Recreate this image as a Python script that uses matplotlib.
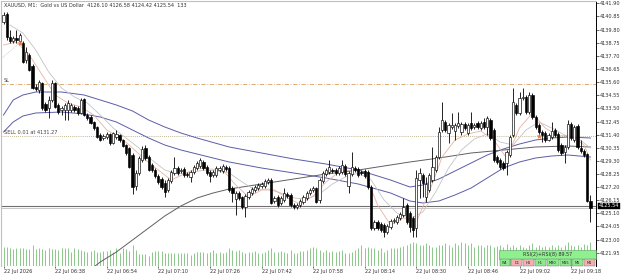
import matplotlib
matplotlib.use("Agg")
import matplotlib.pyplot as plt
from matplotlib.patches import Rectangle

plt.rcParams['font.family'] = ['DejaVu Sans']

# ---------------- data ----------------
opens = [4140.41, 4141.05, 4139.21, 4138.89, 4139.13, 4138.89, 4138.73, 4137.37, 4137.77, 4136.89,
         4135.21, 4134.97, 4135.53, 4133.85, 4133.53, 4134.17, 4135.53, 4133.77, 4133.37, 4133.37,
         4133.37, 4133.37, 4133.61, 4133.53, 4133.13, 4134.25, 4132.97, 4132.81, 4132.41, 4132.01,
         4131.37, 4131.13, 4131.21, 4131.45, 4130.73, 4131.21, 4131.37, 4130.97, 4130.57, 4130.33,
         4129.77, 4127.29, 4128.33, 4129.37, 4130.33, 4129.61, 4128.97, 4128.57, 4128.09, 4127.85,
         4127.53, 4126.97, 4127.69, 4128.33, 4128.73, 4128.49, 4128.65, 4128.25, 4128.01, 4128.41,
         4128.73, 4128.89, 4129.21, 4128.81, 4128.41, 4128.17, 4128.17, 4128.57, 4128.49, 4128.81,
         4128.73, 4127.13, 4126.25, 4126.73, 4126.41, 4125.61, 4126.41, 4126.73, 4126.97, 4127.13,
         4127.29, 4127.29, 4127.61, 4127.77, 4126.09, 4126.41, 4125.93, 4126.17, 4126.65, 4126.57,
         4125.77, 4125.61, 4125.77, 4126.01, 4126.33, 4126.73, 4126.97, 4127.13, 4126.17, 4127.69,
         4128.25, 4128.41, 4128.57, 4128.57, 4128.33, 4128.41, 4128.89, 4127.29, 4128.25, 4128.73,
         4128.65, 4128.41, 4128.49, 4128.41, 4127.21, 4123.93, 4124.41, 4124.25, 4124.17, 4123.61,
         4124.01, 4124.49, 4124.41, 4124.73, 4124.97, 4125.77, 4125.13, 4124.73, 4123.93, 4127.77,
         4128.17, 4126.41, 4126.97, 4127.77, 4128.57, 4129.61, 4131.77, 4132.41, 4131.53, 4132.01,
         4131.69, 4132.09, 4131.61, 4132.25, 4131.53, 4132.33, 4132.01, 4132.33, 4131.93, 4132.41,
         4132.01, 4132.57, 4131.77, 4129.61, 4129.37, 4129.13, 4129.13, 4129.77, 4131.37, 4133.77,
         4133.13, 4134.33, 4134.41, 4133.21, 4134.57, 4132.81, 4132.17, 4131.61, 4131.53, 4130.97,
         4131.21, 4131.77, 4131.45, 4130.57, 4130.01, 4130.41, 4132.25, 4130.97, 4132.09, 4130.33,
         4130.09, 4129.85, 4126.10]
highs = [4141.21, 4141.21, 4139.77, 4139.29, 4139.77, 4139.53, 4138.89, 4138.41, 4137.93, 4137.05,
         4135.45, 4135.77, 4135.61, 4134.01, 4134.49, 4135.77, 4135.61, 4133.93, 4133.69, 4133.93,
         4134.17, 4133.93, 4133.77, 4133.69, 4134.33, 4134.33, 4133.13, 4132.97, 4132.49, 4132.09,
         4131.53, 4131.45, 4131.61, 4131.53, 4131.61, 4131.77, 4131.45, 4131.05, 4130.65, 4130.41,
         4129.93, 4128.57, 4129.69, 4130.49, 4130.57, 4129.77, 4129.13, 4128.73, 4128.25, 4128.01,
         4127.77, 4127.93, 4128.57, 4129.61, 4128.89, 4128.73, 4128.81, 4128.41, 4128.57, 4128.97,
         4129.29, 4129.53, 4129.37, 4128.97, 4128.57, 4128.57, 4128.89, 4128.89, 4129.05, 4128.97,
         4128.89, 4127.29, 4126.89, 4126.89, 4126.49, 4126.65, 4126.97, 4127.21, 4127.37, 4127.53,
         4127.61, 4127.85, 4127.93, 4127.93, 4126.49, 4126.57, 4126.49, 4127.13, 4126.81, 4126.73,
         4125.93, 4125.93, 4126.25, 4126.57, 4126.89, 4127.13, 4127.29, 4127.21, 4127.93, 4128.49,
         4128.73, 4129.37, 4128.73, 4128.73, 4128.89, 4129.37, 4129.05, 4128.49, 4130.01, 4128.89,
         4128.81, 4128.57, 4128.65, 4128.57, 4127.37, 4124.57, 4124.57, 4124.41, 4124.33, 4124.25,
         4124.65, 4124.73, 4124.97, 4125.21, 4126.33, 4125.93, 4125.29, 4124.89, 4128.57, 4128.73,
         4128.33, 4128.01, 4128.33, 4130.41, 4129.77, 4132.01, 4134.01, 4132.57, 4132.33, 4133.13,
         4132.33, 4133.21, 4132.41, 4132.41, 4132.33, 4133.21, 4132.33, 4132.49, 4132.49, 4132.73,
         4132.89, 4132.73, 4131.93, 4129.77, 4129.53, 4129.29, 4130.17, 4131.37, 4135.13, 4133.93,
         4134.81, 4135.13, 4134.57, 4134.81, 4134.73, 4132.97, 4132.33, 4131.77, 4131.69, 4131.53,
         4132.41, 4131.93, 4131.61, 4130.73, 4130.57, 4132.57, 4132.41, 4132.17, 4132.25, 4130.97,
         4130.25, 4129.93, 4126.58]
lows = [4140.25, 4138.97, 4138.73, 4138.73, 4138.73, 4138.65, 4137.13, 4137.13, 4136.49, 4135.05,
        4134.89, 4134.73, 4133.37, 4133.21, 4132.73, 4134.01, 4133.53, 4133.05, 4132.97, 4132.57,
        4132.57, 4133.21, 4133.21, 4132.97, 4133.05, 4132.89, 4132.57, 4132.25, 4131.77, 4131.13,
        4130.89, 4130.97, 4131.05, 4130.57, 4130.65, 4131.05, 4130.81, 4130.41, 4129.77, 4128.73,
        4126.65, 4126.97, 4128.17, 4129.21, 4129.37, 4128.49, 4128.41, 4127.93, 4127.45, 4127.05,
        4126.41, 4126.81, 4127.53, 4128.17, 4128.17, 4128.33, 4128.01, 4128.01, 4127.61, 4128.25,
        4128.57, 4128.73, 4128.57, 4128.17, 4127.61, 4128.01, 4128.01, 4128.41, 4128.33, 4128.49,
        4126.81, 4126.01, 4124.97, 4126.17, 4125.45, 4124.81, 4126.25, 4126.57, 4126.81, 4126.97,
        4127.13, 4127.13, 4127.45, 4125.85, 4125.93, 4125.61, 4125.77, 4126.01, 4126.33, 4125.61,
        4125.45, 4125.45, 4125.61, 4125.85, 4126.17, 4126.57, 4126.81, 4125.93, 4125.93, 4127.53,
        4128.09, 4128.25, 4128.33, 4128.17, 4128.17, 4128.25, 4128.09, 4126.73, 4128.09, 4128.41,
        4128.01, 4128.17, 4127.93, 4127.05, 4123.77, 4123.77, 4123.77, 4123.61, 4123.21, 4123.45,
        4123.85, 4124.33, 4124.25, 4124.57, 4124.81, 4124.25, 4123.61, 4123.21, 4123.21, 4126.33,
        4126.41, 4126.01, 4126.81, 4127.61, 4128.41, 4129.45, 4131.61, 4131.61, 4130.73, 4131.85,
        4130.97, 4131.93, 4131.37, 4131.77, 4131.37, 4131.77, 4131.85, 4131.85, 4131.77, 4131.85,
        4131.37, 4130.97, 4129.21, 4129.05, 4128.65, 4128.57, 4128.17, 4129.61, 4131.21, 4132.97,
        4132.97, 4134.17, 4133.05, 4133.05, 4132.65, 4131.85, 4131.37, 4130.81, 4130.81, 4130.89,
        4131.05, 4131.21, 4130.01, 4129.77, 4129.13, 4130.25, 4130.97, 4130.81, 4130.25, 4129.93,
        4129.61, 4126.01, 4124.42]
closes = [4140.97, 4139.21, 4138.89, 4139.13, 4138.97, 4139.37, 4137.21, 4138.01, 4136.57, 4135.13,
          4135.05, 4135.61, 4133.53, 4133.37, 4134.17, 4135.53, 4133.61, 4133.21, 4133.53, 4133.77,
          4133.93, 4133.77, 4133.37, 4133.13, 4134.17, 4132.97, 4132.73, 4132.33, 4131.93, 4131.21,
          4130.97, 4131.29, 4131.45, 4130.73, 4131.53, 4131.45, 4130.97, 4130.49, 4129.93, 4128.81,
          4127.21, 4128.33, 4129.53, 4130.25, 4129.53, 4128.57, 4128.57, 4128.09, 4127.61, 4127.21,
          4126.81, 4127.77, 4128.41, 4128.73, 4128.33, 4128.57, 4128.17, 4128.17, 4128.41, 4128.81,
          4129.13, 4129.37, 4128.73, 4128.33, 4128.09, 4128.41, 4128.73, 4128.73, 4128.89, 4128.65,
          4126.97, 4126.73, 4126.73, 4126.33, 4125.61, 4126.49, 4126.81, 4127.05, 4127.21, 4127.37,
          4127.45, 4127.69, 4127.77, 4125.93, 4126.33, 4125.77, 4126.33, 4126.73, 4126.49, 4125.77,
          4125.61, 4125.77, 4126.09, 4126.41, 4126.73, 4126.97, 4127.13, 4126.01, 4127.77, 4128.33,
          4128.57, 4128.81, 4128.49, 4128.33, 4128.73, 4128.97, 4128.25, 4128.33, 4128.81, 4128.57,
          4128.17, 4128.33, 4128.09, 4127.21, 4123.93, 4124.41, 4123.93, 4123.77, 4123.61, 4124.09,
          4124.49, 4124.57, 4124.81, 4125.05, 4125.61, 4124.41, 4124.01, 4123.77, 4127.93, 4128.33,
          4127.53, 4127.45, 4128.17, 4128.81, 4129.61, 4131.61, 4132.57, 4131.77, 4132.17, 4132.17,
          4132.17, 4132.33, 4132.25, 4131.93, 4132.17, 4131.93, 4132.17, 4132.01, 4132.33, 4132.01,
          4132.73, 4131.13, 4129.37, 4129.21, 4128.81, 4128.73, 4130.01, 4131.21, 4134.01, 4133.13,
          4134.33, 4134.41, 4133.21, 4134.57, 4132.81, 4132.01, 4131.61, 4131.37, 4130.97, 4131.37,
          4131.69, 4131.37, 4130.17, 4129.93, 4130.41, 4132.25, 4131.13, 4132.01, 4130.41, 4130.09,
          4129.77, 4126.09, 4125.54]
volumes = [106, 106, 101, 94, 97, 101, 101, 92, 94, 119, 94, 97, 94, 88, 97, 94, 92, 88, 97, 97,
           97, 79, 101, 94, 88, 83, 79, 83, 88, 79, 79, 83, 83, 88, 79, 97, 70, 97, 94, 83,
           114, 88, 66, 64, 64, 55, 79, 83, 84, 83, 73, 73, 73, 73, 70, 73, 70, 70, 61, 70,
           79, 75, 79,
           70, 79, 88, 73, 79, 73, 79, 97, 88, 83, 88, 79, 70, 79, 79, 84, 73, 73, 79, 88,
           97, 79, 79, 83, 79, 73, 88, 73, 73, 83, 83, 88, 97, 106, 97, 88, 79, 88, 79, 83,
           79, 83, 88, 73, 70, 79, 88, 97, 116, 97, 106, 97, 97, 88, 97, 79, 88, 97, 97, 97,
           106, 110, 116, 125, 134, 125, 116, 116, 125, 116, 106, 106, 116, 116, 125, 116, 106, 125, 116, 134,
           125, 116, 125, 106, 116, 116, 106, 116, 116, 106, 110, 116, 106, 121, 106, 116, 106, 116, 106, 97,
           116, 125, 106, 116, 106, 110, 106, 116, 106, 116, 106, 116, 134, 116, 110, 116, 106, 121, 116, 133]

# moving-average lines (bar index, price)
fast_ma_bars = [0, 4, 8, 12, 16, 20, 24, 28, 32, 36, 40, 44, 48, 52, 56, 60, 64, 68, 72, 76, 80, 84,
                88, 92, 96, 100, 104, 108, 112, 116, 120, 124, 128, 132, 136, 140, 144, 148, 152,
                156, 160, 164, 168, 172, 176, 180, 182]
fast_ma_vals = [4138.57, 4138.81, 4137.77, 4136.17, 4134.57, 4133.93, 4133.61, 4132.97, 4131.77,
                4131.21, 4130.33, 4129.37, 4128.57, 4127.77, 4128.25, 4128.73, 4128.65, 4128.57,
                4127.37, 4126.41, 4126.97, 4126.97, 4126.33, 4125.85, 4126.49, 4127.61, 4128.41,
                4128.57, 4128.33, 4125.77, 4124.17, 4124.73, 4124.41, 4126.81, 4129.61, 4130.97,
                4131.45, 4131.69, 4130.97, 4129.53, 4131.93, 4133.13, 4131.93, 4131.29, 4131.37,
                4130.57, 4129.37]
mid_ma_bars = [2, 6, 10, 14, 18, 22, 26, 30, 34, 38, 42, 46, 50, 54, 58, 62, 66, 70, 74, 78, 82, 86,
               90, 94, 98, 102, 106, 110, 114, 118, 122, 126, 130, 134, 138, 142, 146, 150, 154,
               158, 162, 166, 170, 174, 178, 182]
mid_ma_vals = [4140.17, 4139.53, 4138.17, 4136.41, 4135.13, 4134.41, 4133.93, 4132.97, 4131.93,
               4131.13, 4130.33, 4129.37, 4128.57, 4128.25, 4128.33, 4128.57, 4128.49, 4128.33,
               4127.61, 4126.97, 4127.05, 4126.73, 4126.33, 4126.25, 4126.65, 4127.45, 4128.01,
               4128.33, 4127.77, 4126.17, 4125.13, 4124.65, 4125.21, 4126.81, 4128.73, 4130.17,
               4131.05, 4131.45, 4130.81, 4130.57, 4131.77, 4132.41, 4131.93, 4131.37, 4131.13,
               4130.33]
blue_upper_bars = [0, 3, 6, 10, 18, 25, 30, 35, 40, 45, 50, 55, 60, 70, 80, 90, 100, 110, 120, 126,
                   130, 135, 140, 145, 150, 155, 160, 165, 170, 175, 182]
blue_upper_vals = [4132.97, 4134.17, 4134.57, 4134.81, 4134.81, 4134.57, 4134.17, 4133.77, 4133.29,
                   4132.57, 4132.01, 4131.53, 4131.13, 4130.41, 4129.93, 4129.45, 4129.05, 4128.57,
                   4127.77, 4127.21, 4127.37, 4127.85, 4128.49, 4129.13, 4129.77, 4130.25, 4130.65,
                   4130.97, 4131.13, 4131.21, 4131.13]
blue_lower_bars = [0, 3, 6, 10, 18, 25, 30, 35, 40, 45, 50, 55, 60, 70, 80, 90, 100, 110, 120, 126,
                   130, 135, 140, 145, 150, 155, 160, 165, 170, 175, 182]
blue_lower_vals = [4131.61, 4132.41, 4132.89, 4133.13, 4133.21, 4133.05, 4132.81, 4132.41, 4131.77,
                   4131.13, 4130.57, 4130.17, 4129.85, 4129.21, 4128.73, 4128.33, 4127.93, 4127.45,
                   4126.73, 4126.09, 4125.93, 4126.09, 4126.57, 4127.13, 4127.93, 4128.73, 4129.21,
                   4129.53, 4129.69, 4129.77, 4129.61]
slow_ma_bars = [26, 30, 35, 40, 45, 50, 55, 60, 65, 70, 80, 90, 100, 110, 120, 126, 135, 145, 155,
                165, 175, 182]
slow_ma_vals = [4120.41, 4121.21, 4122.01, 4122.97, 4123.93, 4124.89, 4125.69, 4126.33, 4126.73,
                4127.05, 4127.45, 4127.85, 4128.25, 4128.57, 4128.97, 4129.21, 4129.53, 4129.93,
                4130.17, 4130.41, 4130.49, 4130.41]

price_ticks = [4141.90, 4140.85, 4139.80, 4138.75, 4137.70, 4136.65, 4135.60, 4134.55, 4133.50,
               4132.45, 4131.40, 4130.35, 4129.30, 4128.25, 4127.20, 4126.15, 4125.10, 4124.05,
               4123.00, 4121.95]
time_tick_bars = [0, 16, 32, 48, 64, 80, 96, 112, 128, 144, 160, 176]
time_tick_labels = ["22 Jul 2026", "22 Jul 06:38", "22 Jul 06:54", "22 Jul 07:10", "22 Jul 07:26",
                    "22 Jul 07:42", "22 Jul 07:58", "22 Jul 08:14", "22 Jul 08:30", "22 Jul 08:46",
                    "22 Jul 09:02", "22 Jul 09:18"]

header = "XAUUSD, M1:  Gold vs US Dollar  4126.10 4126.58 4124.42 4125.54  133"
sl_price = 4135.45
sell_price = 4131.27
sell_label = "SELL 0.01 at 4131.27"
bid_price = 4125.54
line_upper = 4125.70
line_lower = 4125.50
trade_marker_bars = [5, 166]
trade_marker_prices = [4138.75, 4131.27]
panel_title = "RSI(2)+RSI(8) 89.57"
tf_names = ["W1", "D1", "H4", "H1", "M30", "M15", "M5", "M1"]
tf_state = [1, 0, 0, 1, 1, 1, 1, 0]

# ---------------- figure ----------------
W, H = 625, 276
fig = plt.figure(figsize=(W / 100, H / 100), dpi=100)
fig.patch.set_facecolor('white')
L_PX, R_PX, T_PX, B_PX = 1, 596, 1, 266
ax = fig.add_axes([L_PX / W, 1 - B_PX / H, (R_PX - L_PX) / W, (B_PX - T_PX) / H])
ax.set_xlim(-0.78, 183.72)
ax.set_ylim(4120.89, 4142.09)

# volumes on hidden twin axis
vax = ax.twinx()
vax.set_ylim(0, 1468)
vax.vlines(range(len(volumes)), 0, volumes, colors='#78c078', linewidth=0.6, zorder=1)
vax.axis('off')
ax.set_zorder(vax.get_zorder() + 1)
ax.patch.set_visible(False)

# horizontal lines
ax.axhline(sl_price, color='#d9a060', lw=0.6, dashes=(5, 2, 1, 2), zorder=1)
ax.axhline(sell_price, color='#a8a070', lw=0.6, dashes=(1, 1.5), zorder=1)
ax.axhline(line_upper, color='#707070', lw=0.8, zorder=1)
ax.axhline(line_lower, color='#c8c8c8', lw=0.7, zorder=1)

# indicator lines
ax.plot(slow_ma_bars, slow_ma_vals, color='#606060', lw=0.7, zorder=2)
ax.plot(blue_upper_bars, blue_upper_vals, color='#5c5ca8', lw=0.7, zorder=2)
ax.plot(blue_lower_bars, blue_lower_vals, color='#5c5ca8', lw=0.7, zorder=2)
ax.plot(mid_ma_bars, mid_ma_vals, color='#c4c4c4', lw=0.6, zorder=2)
ax.plot(fast_ma_bars, fast_ma_vals, color='#e6b4a2', lw=0.6, zorder=2)

# candles
xs = list(range(len(closes)))
ax.vlines(xs, lows, highs, colors='black', linewidth=0.6, zorder=3)
bw = 0.7
for i in xs:
    o, c = opens[i], closes[i]
    bottom = min(o, c)
    h = max(abs(c - o), 0.03)
    face = 'white' if c >= o else 'black'
    ax.add_patch(Rectangle((i - bw / 2, bottom), bw, h, facecolor=face,
                           edgecolor='black', linewidth=0.45, zorder=4))

# trade markers
ax.plot(trade_marker_bars, trade_marker_prices, linestyle='none', marker='*', markersize=3.5,
        color='#e07840', markeredgewidth=0.3, zorder=5)
ax.plot([-1, trade_marker_bars[0]], [4137.40, trade_marker_prices[0]], color='#c8a8a8',
        lw=0.5, dashes=(1, 1.5), zorder=2)

# axes styling
for s in ['top', 'left']:
    ax.spines[s].set_color('#c0c0c0')
    ax.spines[s].set_linewidth(0.8)
ax.spines['bottom'].set_visible(False)
ax.spines['right'].set_color('black')
ax.spines['right'].set_linewidth(0.7)

ax.yaxis.tick_right()
ax.set_yticks(price_ticks)
ax.set_yticklabels([f"{v:.2f}" for v in price_ticks])
ax.tick_params(axis='y', direction='out', length=2, width=0.5, pad=0.8, labelsize=3.6,
               colors='#303030')
ax.set_xticks(time_tick_bars)
ax.set_xticklabels(time_tick_labels)
ax.tick_params(axis='x', direction='out', length=1.5, width=0.5, pad=0.8, labelsize=3.6,
               colors='#303030')
for lab in ax.get_xticklabels():
    lab.set_horizontalalignment('left')

# texts
ax.text(3 / 595, 1 - 4 / 265, header, transform=ax.transAxes, fontsize=3.6, color='#303030',
        ha='left', va='center')
ax.text(3 / 595, 1 - 80 / 265, "SL", transform=ax.transAxes, fontsize=3.6, color='#404040',
        ha='left', va='center')
ax.text(3 / 595, 1 - 132 / 265, sell_label, transform=ax.transAxes, fontsize=3.6,
        color='#404040', ha='left', va='center')

# price label on axis
ax.annotate(f"{bid_price:.2f}", xy=(1.0, line_upper), xycoords=('axes fraction', 'data'),
            xytext=(2, 0), textcoords='offset points', fontsize=3.6, color='white',
            ha='left', va='center',
            bbox=dict(boxstyle='square,pad=0.15', fc='black', ec='black', lw=0.3))

# RSI panel (drawn in pixel-based axes fraction)
def fx(px):
    return (px - L_PX) / (R_PX - L_PX)

def fy(py):
    return (B_PX - py) / (B_PX - T_PX)

ax.add_patch(Rectangle((fx(499), fy(258.5)), fx(596) - fx(499), fy(250) - fy(258.5),
                       transform=ax.transAxes, facecolor='#8ef08e', edgecolor='#5aa05a',
                       linewidth=0.4, zorder=6, clip_on=False))
ax.text((fx(499) + fx(596)) / 2, fy(254.3), panel_title, transform=ax.transAxes,
        fontsize=3.5, color='#303030', ha='center', va='center', zorder=7)
box_edges = [500, 511.5, 523, 534.5, 546.5, 560, 571.5, 583.5, 595.5]
for k, name in enumerate(tf_names):
    x0, x1 = box_edges[k], box_edges[k + 1] - 1
    col = '#8ee88e' if tf_state[k] else '#f2b0b0'
    ax.add_patch(Rectangle((fx(x0), fy(266)), fx(x1) - fx(x0), fy(259) - fy(266),
                           transform=ax.transAxes, facecolor=col, edgecolor='#6a6a6a',
                           linewidth=0.3, zorder=6, clip_on=False))
    ax.text((fx(x0) + fx(x1)) / 2, fy(262.5), name, transform=ax.transAxes, fontsize=2.6,
            color='#202020', ha='center', va='center', zorder=7)

fig.savefig("out.png", dpi=100, facecolor='white')
